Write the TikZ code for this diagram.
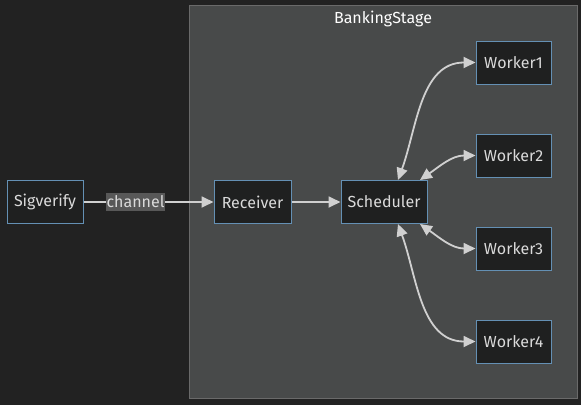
\documentclass[tikz,border=0pt]{standalone}
\usepackage{fontspec}
\setmainfont{Fira Sans}
\usetikzlibrary{positioning, arrows.meta}
\definecolor{pagebg}{HTML}{222222}
\definecolor{clusterbg}{HTML}{484A4A}
\definecolor{clusterline}{HTML}{6A6A6A}
\definecolor{boxbg}{HTML}{1F2020}
\definecolor{boxline}{HTML}{6490B4}
\definecolor{textcol}{HTML}{DADADA}
\definecolor{edgecol}{HTML}{D0D0D0}
\definecolor{labelbg}{HTML}{585858}
\tikzset{stagebox/.style={draw=boxline, fill=boxbg, line width=1pt, text=textcol,
           minimum height=43pt, inner sep=0pt, font=\fontsize{16}{19}\selectfont},
         flow/.style={draw=edgecol, line width=1.8pt, -{Triangle[length=12pt,width=11pt]}},
         both/.style={draw=edgecol, line width=1.8pt,
           {Triangle[length=12pt,width=11pt]}-{Triangle[length=12pt,width=11pt]}}}

\begin{document}
\begin{tikzpicture}[x=1pt, y=-1pt]

        % Background and the BankingStage cluster
        \fill[pagebg] (0,0) rectangle (581,405);
        \useasboundingbox (0,0) rectangle (581,405);
        \draw[clusterline, fill=clusterbg, line width=1pt] (189.5,5.5) rectangle (577,398.5);
        \node[text=white, font=\fontsize{16}{19}\selectfont] (title) at (383,19) {BankingStage};

        % Nodes for the pipeline
        \node[stagebox, minimum width=76pt] (sig) at (45,202) {Sigverify};
        \node[stagebox, minimum width=77pt] (recv) at (252.5,202) {Receiver};
        \node[stagebox, minimum width=86pt] (sched) at (384,202) {Scheduler};

        % Nodes for the workers
        \node[stagebox, minimum width=75pt] (w1) at (513.5,62.5) {Worker1};
        \node[stagebox, minimum width=75pt] (w2) at (513.5,155.5) {Worker2};
        \node[stagebox, minimum width=75pt] (w3) at (513.5,248.5) {Worker3};
        \node[stagebox, minimum width=75pt] (w4) at (513.5,341.5) {Worker4};

        % Edges for the pipeline
        \draw[flow] (sig) -- node[pos=0.4, fill=labelbg, text=textcol, inner sep=1pt,
            minimum height=18pt, font=\fontsize{16}{19}\selectfont] (chan) {channel} (recv);
        \draw[flow] (recv) -- (sched);

        % Edges between the scheduler and the workers
        \draw[both] ([xshift=14pt]sched.north) to[out=70, in=180] (w1.west);
        \draw[both] ([xshift=36pt]sched.north) to[out=35, in=180] (w2.west);
        \draw[both] ([xshift=36pt]sched.south) to[out=-35, in=180] (w3.west);
        \draw[both] ([xshift=14pt]sched.south) to[out=-70, in=180] (w4.west);

    \end{tikzpicture}
\end{document}
